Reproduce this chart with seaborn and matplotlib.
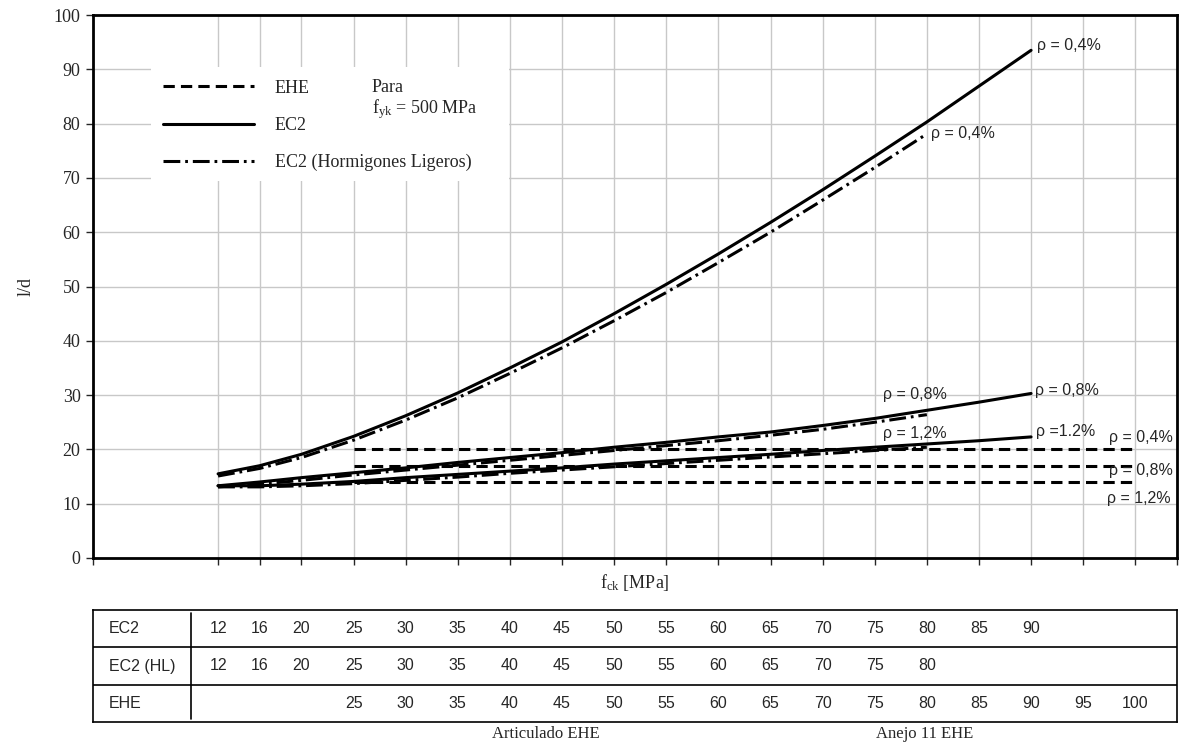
import numpy as np
import pandas as pd
import matplotlib
matplotlib.use("Agg")
import matplotlib.pyplot as plt
import seaborn as sns
from matplotlib.lines import Line2D
from matplotlib.patches import Rectangle

# fck classes for each code
fck_ec2 = [12, 16, 20, 25, 30, 35, 40, 45, 50, 55, 60, 65, 70, 75, 80, 85, 90]
fck_hl = [12, 16, 20, 25, 30, 35, 40, 45, 50, 55, 60, 65, 70, 75, 80]
fck_ehe = [25, 30, 35, 40, 45, 50, 55, 60, 65, 70, 75, 80, 85, 90, 95, 100]

# l/d
ec2_04 = [15.5, 17.0, 19.1, 22.4, 26.2, 30.4, 35.0, 39.8, 45.0, 50.4, 56.0, 61.8, 67.8, 74.0, 80.3, 86.9, 93.5]
ec2_08 = [13.3, 14.0, 14.8, 15.7, 16.6, 17.6, 18.5, 19.4, 20.4, 21.3, 22.3, 23.2, 24.4, 25.7, 27.2, 28.7, 30.3]
ec2_12 = [13.3, 13.3, 13.6, 14.1, 14.8, 15.4, 16.0, 16.6, 17.3, 17.9, 18.5, 19.1, 19.8, 20.4, 21.0, 21.6, 22.3]

hl_04 = [15.1, 16.5, 18.5, 21.7, 25.4, 29.5, 34.0, 38.7, 43.7, 48.9, 54.4, 60.0, 65.9, 71.9, 78.1]
hl_08 = [13.1, 13.6, 14.3, 15.3, 16.2, 17.1, 18.0, 18.9, 19.8, 20.7, 21.6, 22.6, 23.7, 25.0, 26.4]
hl_12 = [13.1, 13.1, 13.3, 13.7, 14.3, 14.9, 15.6, 16.2, 16.8, 17.4, 18.0, 18.6, 19.2, 19.8, 20.4]

ehe_04 = [20, 20, 20, 20, 20, 20, 20, 20, 20, 20, 20, 20, 20, 20, 20, 20]
ehe_08 = [17, 17, 17, 17, 17, 17, 17, 17, 17, 17, 17, 17, 17, 17, 17, 17]
ehe_12 = [14, 14, 14, 14, 14, 14, 14, 14, 14, 14, 14, 14, 14, 14, 14, 14]

rho_labels = ["0,4", "0,8", "1,2"]


def main():
    W, H = 1192, 744
    sns.set_style("white")
    plt.rcParams["font.family"] = ["Liberation Serif", "DejaVu Serif"]
    plt.rcParams["mathtext.fontset"] = "custom"
    plt.rcParams["mathtext.rm"] = "Liberation Serif"
    plt.rcParams["mathtext.it"] = "Liberation Serif:italic"
    sans = ["Liberation Sans", "DejaVu Sans"]

    rows = []
    for norma, xs, series in [("EHE", fck_ehe, [ehe_04, ehe_08, ehe_12]),
                              ("EC2", fck_ec2, [ec2_04, ec2_08, ec2_12]),
                              ("HL", fck_hl, [hl_04, hl_08, hl_12])]:
        for rho, ys in zip(rho_labels, series):
            for x, y in zip(xs, ys):
                rows.append((norma, rho, x, y))
    df = pd.DataFrame(rows, columns=["norma", "rho", "fck", "ld"])
    df["curva"] = df["norma"] + " " + df["rho"]

    dash_map = {"EHE": (3.7, 2.0), "EC2": "", "HL": (5.5, 1.6, 0.9, 1.6)}

    fig = plt.figure(figsize=(W / 100, H / 100), dpi=100)
    ax = fig.add_axes([93 / W, 1 - 558 / H, (1177 - 93) / W, (558 - 15) / H])

    sns.lineplot(data=df, x="fck", y="ld", style="norma", units="curva",
                 estimator=None, dashes=dash_map, color="black", lw=2.2,
                 legend=False, ax=ax, zorder=3, sort=False)

    ax.set_xlim(0, 104)
    ax.set_ylim(0, 100)
    ax.set_xticks([0, 12, 16, 20] + fck_ehe + [104])
    ax.set_xticklabels([])
    ax.set_yticks(range(0, 101, 10))
    ax.tick_params(axis="y", labelsize=13, left=True, length=5, width=1, pad=4)
    ax.tick_params(axis="x", bottom=True, length=5, width=1)
    ax.set_axisbelow(True)
    ax.grid(True, color="#c8c8c8", lw=1)
    for s in ax.spines.values():
        s.set_color("black")
        s.set_linewidth(2)

    ax.set_xlabel(r"f$_{\mathrm{ck}}$ [MPa]", fontsize=13)
    ax.xaxis.set_label_coords(0.5, -0.026)
    ax.set_ylabel("l/d", fontsize=13, labelpad=14)

    # legend box
    ax.add_patch(Rectangle((0.0535, 0.695), 0.33, 0.21, transform=ax.transAxes,
                           facecolor="white", edgecolor="none", zorder=1))
    handles = [Line2D([], [], color="black", lw=2.2, dashes=dash_map["EHE"]),
               Line2D([], [], color="black", lw=2.2),
               Line2D([], [], color="black", lw=2.2, dashes=dash_map["HL"])]
    ax.legend(handles, ["EHE", "EC2", "EC2 (Hormigones Ligeros)"],
              loc="upper left", bbox_to_anchor=(0.0646, 0.881), frameon=False,
              fontsize=13, handlelength=5.05, handletextpad=1.15,
              labelspacing=1.12, borderpad=0, borderaxespad=0)
    ax.text(0.257, 0.867, "Para", fontsize=13, va="center", transform=ax.transAxes)
    ax.text(0.257, 0.826, r"f$_{\mathrm{yk}}$ = 500 MPa", fontsize=13, va="center",
            transform=ax.transAxes)

    # curve labels, anchored at the end of each series
    lab = dict(fontsize=11.5, family=sans, textcoords="offset pixels", va="center")
    ax.annotate(u"\u03c1 = 0,4%", (fck_ec2[-1], ec2_04[-1]), xytext=(6, 5), **lab)
    ax.annotate(u"\u03c1 = 0,8%", (fck_ec2[-1], ec2_08[-1]), xytext=(4, 3), **lab)
    ax.annotate(u"\u03c1 =1.2%", (fck_ec2[-1], ec2_12[-1]), xytext=(5, 5), **lab)
    ax.annotate(u"\u03c1 = 0,4%", (fck_hl[-1], hl_04[-1]), xytext=(4, 0), **lab)
    ax.annotate(u"\u03c1 = 0,8%", (fck_hl[-1], hl_08[-1]), xytext=(-44, 20), **lab)
    ax.annotate(u"\u03c1 = 1,2%", (fck_hl[-1], hl_12[-1]), xytext=(-44, 14), **lab)
    ax.annotate(u"\u03c1 = 0,4%", (fck_ehe[-1], ehe_04[-1]), xytext=(-26, 12), **lab)
    ax.annotate(u"\u03c1 = 0,8%", (fck_ehe[-1], ehe_08[-1]), xytext=(-26, -5), **lab)
    ax.annotate(u"\u03c1 = 1,2%", (fck_ehe[-1], ehe_12[-1]), xytext=(-28, -17), **lab)

    # table of classes under the chart
    tax = fig.add_axes([93 / W, 1 - 722 / H, (1177 - 93) / W, (722 - 610) / H])
    tax.set_xlim(0, 104)
    tax.set_ylim(3, 0)
    tax.set_xticks([])
    tax.set_yticks([])
    for s in tax.spines.values():
        s.set_color("black")
        s.set_linewidth(1.2)
    tax.axhline(1, color="black", lw=1.2)
    tax.axhline(2, color="black", lw=1.2)
    tax.axvline(9.4, ymin=0.03, ymax=0.97, color="black", lw=1.2)
    for i, (name, vals) in enumerate([("EC2", fck_ec2), ("EC2 (HL)", fck_hl), ("EHE", fck_ehe)]):
        tax.text(1.5, i + 0.5, name, fontsize=11.5, family=sans, va="center", ha="left")
        for v in vals:
            tax.text(v, i + 0.5, str(v), fontsize=11.5, family=sans, va="center", ha="center")

    fig.text(546 / W, 1 - 734 / H, "Articulado EHE", fontsize=12, ha="center", va="center")
    fig.text(925 / W, 1 - 734 / H, "Anejo 11 EHE", fontsize=12, ha="center", va="center")

    fig.savefig("out.png", dpi=100)


if __name__ == "__main__":
    main()
